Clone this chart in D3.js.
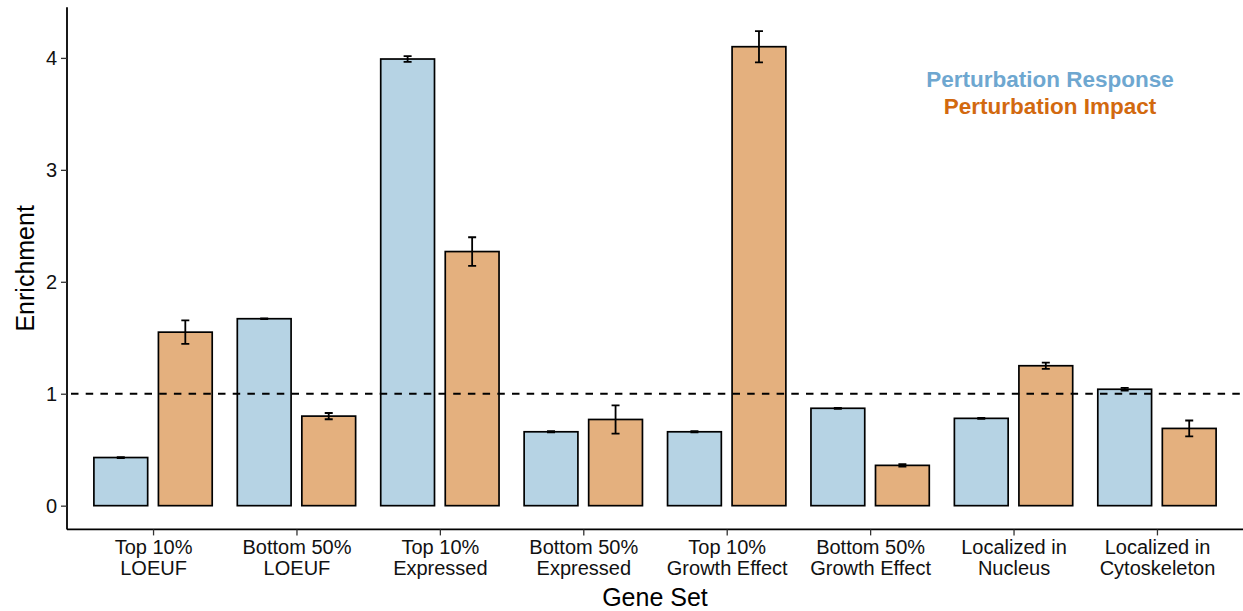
<!DOCTYPE html>
<html>
<head>
<meta charset="utf-8">
<script src="https://cdn.jsdelivr.net/npm/d3@7"></script>
<style>
  html, body { margin: 0; padding: 0; background: #fff; }
  svg { display: block; font-family: "Liberation Sans", Arial, Helvetica, sans-serif; }
</style>
</head>
<body>
<svg id="chart" width="1243" height="611"></svg>
<script>
// Gene set categories (two-line tick labels)
const categories = [
  ["Top 10%", "LOEUF"],
  ["Bottom 50%", "LOEUF"],
  ["Top 10%", "Expressed"],
  ["Bottom 50%", "Expressed"],
  ["Top 10%", "Growth Effect"],
  ["Bottom 50%", "Growth Effect"],
  ["Localized in", "Nucleus"],
  ["Localized in", "Cytoskeleton"]
];

// Enrichment per gene set, with standard errors
const responseValues = [0.43, 1.67, 3.99, 0.66, 0.66, 0.87, 0.78, 1.04];
const responseErrors = [0.004, 0.004, 0.025, 0.006, 0.006, 0.004, 0.004, 0.013];
const impactValues   = [1.55, 0.80, 2.27, 0.77, 4.10, 0.36, 1.25, 0.69];
const impactErrors   = [0.105, 0.028, 0.128, 0.126, 0.14, 0.012, 0.028, 0.071];

const seriesNames = ["Perturbation Response", "Perturbation Impact"];
const yTicks = [0, 1, 2, 3, 4];
const referenceLine = 1;

const fills = ["#b6d3e4", "#e4b07e"];
const labelColors = ["#6ea7d0", "#d2690f"];

const svg = d3.select("#chart");
const plotLeft = 67, plotRight = 1243, plotTop = 7.3, plotBottom = 529.4;

const keys = categories.map(c => c.join(" "));
const x = d3.scalePoint().domain(keys).range([plotLeft, plotRight]).padding(0.6);
const step = x.step();
const barW = 0.375 * step;
const dodge = 0.225 * step;

const yMax = d3.max(impactValues.map((v, i) => v + impactErrors[i]).concat(responseValues.map((v, i) => v + responseErrors[i])));
const pad = yMax * 0.05;
const y = d3.scaleLinear().domain([-pad, yMax + pad]).range([plotBottom, plotTop]);

// Flatten both series into bar records
const bars = [];
keys.forEach((k, i) => {
  bars.push({ key: k, s: 0, v: responseValues[i], e: responseErrors[i] });
  bars.push({ key: k, s: 1, v: impactValues[i], e: impactErrors[i] });
});
const cx = d => x(d.key) + (d.s === 0 ? -dodge : dodge);

// Bars
svg.append("g").selectAll("rect").data(bars).join("rect")
  .attr("x", d => cx(d) - barW / 2)
  .attr("y", d => y(d.v))
  .attr("width", barW)
  .attr("height", d => y(0) - y(d.v))
  .attr("fill", d => fills[d.s])
  .attr("stroke", "#000")
  .attr("stroke-width", 1.7);

// Error bars
const capW = 4;
const eb = svg.append("g").attr("stroke", "#000").attr("stroke-width", 1.8).attr("fill", "none");
eb.selectAll("path").data(bars).join("path")
  .attr("d", d => {
    const c = cx(d), y1 = y(d.v + d.e), y2 = y(d.v - d.e);
    return `M${c - capW},${y1}H${c + capW}M${c},${y1}V${y2}M${c - capW},${y2}H${c + capW}`;
  });

// Reference line at enrichment = 1
svg.append("line")
  .attr("x1", plotLeft).attr("x2", plotRight)
  .attr("y1", y(referenceLine)).attr("y2", y(referenceLine))
  .attr("stroke", "#000").attr("stroke-width", 1.8)
  .attr("stroke-dasharray", "7.5,7.2").attr("stroke-dashoffset", -4);

// Y axis
const yAxis = svg.append("g").attr("transform", `translate(${plotLeft},0)`)
  .call(d3.axisLeft(y).tickValues(yTicks).tickSize(6).tickPadding(4).tickFormat(d3.format("d")));
yAxis.select(".domain").attr("d", `M0,${plotTop}V${plotBottom}`).attr("stroke", "#000").attr("stroke-width", 1.8);
yAxis.selectAll(".tick line").attr("stroke", "#333").attr("stroke-width", 1.3);
yAxis.selectAll(".tick text").attr("font-size", 20).attr("fill", "#111")
  .attr("font-family", "Liberation Sans, Arial, sans-serif");

// X axis
const xAxis = svg.append("g").attr("transform", `translate(0,${plotBottom})`)
  .call(d3.axisBottom(x).tickSize(6).tickFormat(""));
xAxis.select(".domain").attr("d", `M${plotLeft},0H${plotRight}`).attr("stroke", "#000").attr("stroke-width", 1.8);
xAxis.selectAll(".tick line").attr("stroke", "#333").attr("stroke-width", 1.3);
xAxis.selectAll(".tick").each(function(d, i) {
  const t = d3.select(this).append("text")
    .attr("text-anchor", "middle")
    .attr("font-size", 20)
    .attr("fill", "#111");
  categories[i].forEach((line, j) => {
    t.append("tspan").attr("x", 0).attr("y", 25 + j * 21).text(line);
  });
});

// Axis titles
svg.append("text")
  .attr("x", (plotLeft + plotRight) / 2).attr("y", 606)
  .attr("text-anchor", "middle").attr("font-size", 25).attr("fill", "#000")
  .text("Gene Set");
svg.append("text")
  .attr("transform", `translate(34,${(plotTop + plotBottom) / 2}) rotate(-90)`)
  .attr("text-anchor", "middle").attr("font-size", 25).attr("fill", "#000")
  .text("Enrichment");

// Legend as coloured labels
seriesNames.forEach((name, i) => {
  svg.append("text")
    .attr("x", 1050).attr("y", 87 + i * 27)
    .attr("text-anchor", "middle")
    .attr("font-size", 22.5).attr("font-weight", "bold")
    .attr("fill", labelColors[i])
    .text(name);
});
</script>
</body>
</html>
